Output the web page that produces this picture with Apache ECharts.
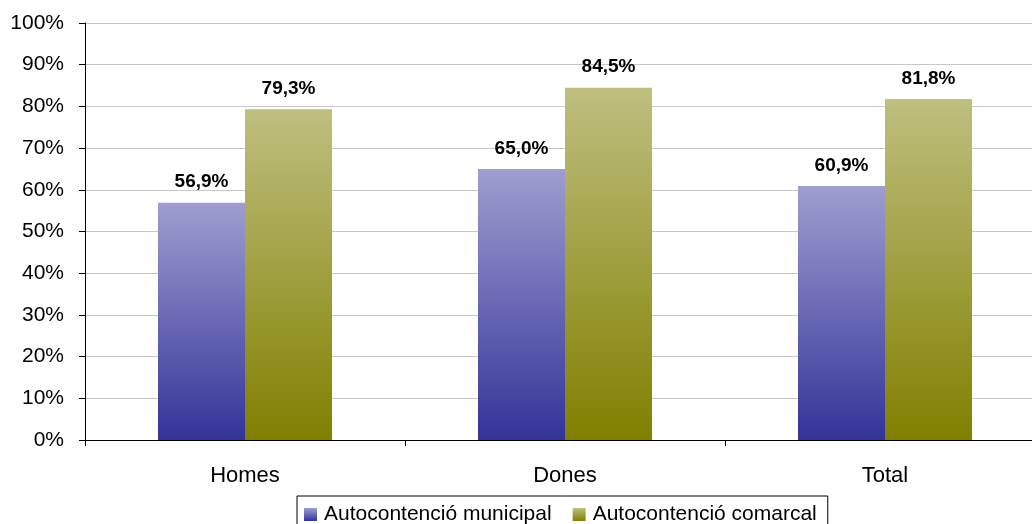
<!DOCTYPE html>
<html>
<head>
<meta charset="utf-8">
<script src="https://cdn.jsdelivr.net/npm/echarts@6/dist/echarts.min.js"></script>
<style>
  html, body { margin: 0; padding: 0; background: #fff; overflow: hidden; width: 1032px; height: 524px; }
  #chart { width: 1045px; height: 524px; }
</style>
</head>
<body>
<div id="chart"></div>
<script>
// Categories and values (percent)
const categories = ['Homes', 'Dones', 'Total'];
const municipal = [56.9, 65.0, 60.9];
const comarcal = [79.3, 84.5, 81.8];
const seriesNames = ['Autocontenció municipal', 'Autocontenció comarcal'];

const FONT = '"Liberation Sans", Arial, sans-serif';

function grad(top, bottom) {
  return new echarts.graphic.LinearGradient(0, 0, 0, 1, [
    { offset: 0, color: top },
    { offset: 1, color: bottom }
  ]);
}

const fmt = v => v.toFixed(1).replace('.', ',') + '%';

const labelCfg = {
  show: true,
  position: 'top',
  distance: 11,
  fontFamily: FONT,
  fontSize: 19,
  fontWeight: 'bold',
  color: '#000',
  formatter: p => fmt(p.value)
};

const chart = echarts.init(document.getElementById('chart'), null, { renderer: 'canvas' });
chart.setOption({
  animation: false,
  grid: { left: 85, right: 0, top: 23, bottom: 84, containLabel: false },
  legend: {
    top: 496,
    left: 297,
    data: seriesNames,
    icon: 'rect',
    itemWidth: 13,
    itemHeight: 13,
    itemGap: 21,
    borderColor: '#000',
    borderWidth: 1,
    backgroundColor: '#fff',
    padding: [8, 11, 6, 7],
    textStyle: { fontFamily: FONT, fontSize: 21, color: '#000', padding: [0, 0, 0, 2] }
  },
  xAxis: {
    type: 'category',
    data: categories,
    axisLine: { lineStyle: { color: '#000', width: 1 } },
    axisTick: { show: true, length: 6, lineStyle: { color: '#000' } },
    axisLabel: { fontFamily: FONT, fontSize: 22, color: '#000', margin: 25 }
  },
  yAxis: {
    type: 'value',
    min: 0,
    max: 100,
    interval: 10,
    axisLine: { show: true, lineStyle: { color: '#000', width: 1 } },
    axisTick: { show: true, length: 6, lineStyle: { color: '#000' } },
    axisLabel: { fontFamily: FONT, fontSize: 21, color: '#000', margin: 21, formatter: '{value}%' },
    splitLine: { lineStyle: { color: '#c8c8c8', width: 1 } }
  },
  series: [
    {
      name: seriesNames[0],
      type: 'bar',
      data: municipal,
      barWidth: 87,
      barGap: '0%',
      itemStyle: { color: grad('#9e9ed0', '#333399') },
      label: labelCfg
    },
    {
      name: seriesNames[1],
      type: 'bar',
      data: comarcal,
      barWidth: 87,
      barGap: '0%',
      itemStyle: { color: grad('#bfbf80', '#808000') },
      label: labelCfg
    }
  ]
});
</script>
</body>
</html>
